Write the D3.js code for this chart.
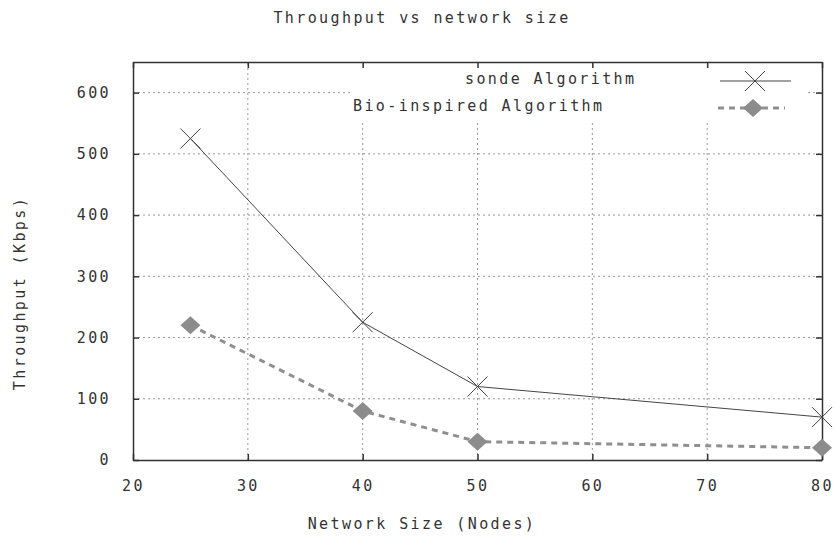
<!DOCTYPE html>
<html>
<head>
<meta charset="utf-8">
<script src="https://cdn.jsdelivr.net/npm/d3@7"></script>
<style>
  body { margin: 0; background: #fff; }
  svg text { font-family: "DejaVu Sans Mono", monospace; font-size: 15px; fill: #333; letter-spacing: 2.4px; }
</style>
</head>
<body>
<div id="chart"></div>
<script>
// Data
const networkSize = [25, 40, 50, 80];
const sondeThroughput = [525, 225, 120, 70];
const bioThroughput = [220, 80, 30, 20];
const xTicks = [20, 30, 40, 50, 60, 70, 80];
const yTicks = [0, 100, 200, 300, 400, 500, 600];

const width = 835, height = 537;
const margin = { top: 62, right: 13, bottom: 77, left: 133 };

const svg = d3.select("#chart").append("svg")
    .attr("width", width)
    .attr("height", height);

const x = d3.scaleLinear().domain([20, 80]).range([margin.left, width - margin.right]);
const y = d3.scaleLinear().domain([0, 650]).range([height - margin.bottom, margin.top]);

// Grid
const grid = svg.append("g")
    .attr("stroke", "#999")
    .attr("stroke-width", 1)
    .attr("stroke-dasharray", "2,3");
grid.selectAll(".gx").data(xTicks.slice(1, -1)).enter().append("line")
    .attr("x1", d => x(d)).attr("x2", d => x(d))
    .attr("y1", y(0)).attr("y2", y(650));
grid.selectAll(".gy").data(yTicks.slice(1)).enter().append("line")
    .attr("x1", x(20)).attr("x2", x(80))
    .attr("y1", d => y(d)).attr("y2", d => y(d));

// Legend box hides the grid behind it
svg.append("rect")
    .attr("x", 350).attr("y", y(650) + 1)
    .attr("width", 456).attr("height", 58)
    .attr("fill", "#fff");

// Axes (ticks inward on all four sides)
const tickLen = -6;
svg.append("g").attr("transform", `translate(0,${y(0)})`)
    .call(d3.axisBottom(x).tickValues(xTicks).tickSizeInner(tickLen).tickSizeOuter(0).tickPadding(20));
svg.append("g").attr("transform", `translate(0,${y(650)})`)
    .call(d3.axisTop(x).tickValues(xTicks).tickSizeInner(tickLen).tickSizeOuter(0).tickFormat(""));
svg.append("g").attr("transform", `translate(${x(20)},0)`)
    .call(d3.axisLeft(y).tickValues(yTicks).tickSizeInner(tickLen).tickSizeOuter(0).tickPadding(22));
svg.append("g").attr("transform", `translate(${x(80)},0)`)
    .call(d3.axisRight(y).tickValues(yTicks).tickSizeInner(tickLen).tickSizeOuter(0).tickFormat(""));

svg.selectAll(".domain").attr("stroke", "#333").attr("stroke-width", 1.5);
svg.selectAll(".tick line").attr("stroke", "#333").attr("stroke-width", 1.5);
svg.selectAll(".tick text").attr("fill", "#333").attr("font-size", 15)
    .attr("font-family", '"DejaVu Sans Mono", monospace');

// Series
const line = d3.line().x(d => x(d[0])).y(d => y(d[1]));
const sondePts = networkSize.map((n, i) => [n, sondeThroughput[i]]);
const bioPts = networkSize.map((n, i) => [n, bioThroughput[i]]);

svg.append("path").datum(bioPts)
    .attr("d", line).attr("fill", "none")
    .attr("stroke", "#8f8f8f").attr("stroke-width", 3).attr("stroke-dasharray", "6,5");
svg.append("path").datum(sondePts)
    .attr("d", line).attr("fill", "none")
    .attr("stroke", "#444").attr("stroke-width", 1);

function cross(g, cx, cy) {
    const r = 10;
    g.append("path")
        .attr("d", `M${cx - r},${cy - r}L${cx + r},${cy + r}M${cx - r},${cy + r}L${cx + r},${cy - r}`)
        .attr("stroke", "#444").attr("stroke-width", 1).attr("fill", "none");
}
function diamond(g, cx, cy) {
    g.append("path")
        .attr("d", `M${cx},${cy - 9}L${cx + 10},${cy}L${cx},${cy + 9}L${cx - 10},${cy}Z`)
        .attr("fill", "#8c8c8c");
}

const marks = svg.append("g");
sondePts.forEach(p => cross(marks, x(p[0]), y(p[1])));
bioPts.forEach(p => diamond(marks, x(p[0]), y(p[1])));

// Legend
svg.append("text").attr("x", 465).attr("y", 84).text("sonde Algorithm");
svg.append("line").attr("x1", 720).attr("x2", 791).attr("y1", 81).attr("y2", 81)
    .attr("stroke", "#444").attr("stroke-width", 1);
cross(svg, 755, 81);

svg.append("text").attr("x", 353).attr("y", 111).text("Bio-inspired Algorithm");
svg.append("line").attr("x1", 718).attr("x2", 785).attr("y1", 108).attr("y2", 108)
    .attr("stroke", "#8f8f8f").attr("stroke-width", 3).attr("stroke-dasharray", "6,5");
diamond(svg, 753, 108);

// Titles
svg.append("text").attr("x", 422).attr("y", 23).attr("text-anchor", "middle")
    .text("Throughput vs network size");
svg.append("text").attr("x", 422).attr("y", 529).attr("text-anchor", "middle")
    .text("Network Size (Nodes)");
svg.append("text").attr("transform", "translate(25,293) rotate(-90)")
    .attr("text-anchor", "middle").text("Throughput (Kbps)");
</script>
</body>
</html>
